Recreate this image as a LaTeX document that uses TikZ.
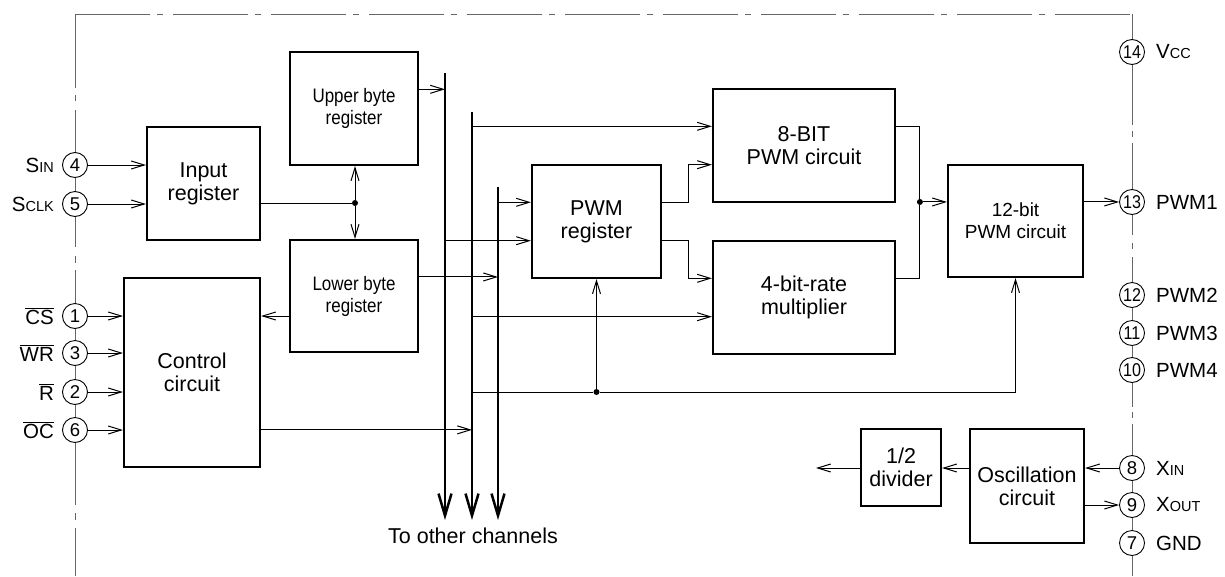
\documentclass[tikz,border=0pt]{standalone}
\usepackage{fontspec}
\usepackage{graphicx}
\setmainfont{Liberation Sans}
\usetikzlibrary{arrows.meta,calc,positioning}
\definecolor{framegray}{HTML}{666666}
\newcommand{\lowcap}[1]{{\fontsize{14.5}{14.5}\selectfont #1}}
\newcommand{\negsig}[1]{$\overline{\mbox{#1}}$}
\newcommand{\narrow}[1]{\scalebox{0.87}[1]{#1}}
\tikzset{
  blk/.style={draw,line width=2.2pt,align=center,inner sep=0pt,font=\fontsize{21.5}{23}\selectfont},
  pin/.style={circle,draw,fill=white,line width=0.9pt,minimum size=25pt,inner sep=0pt,font=\fontsize{18.5}{18.5}\selectfont},
  lbl/.style={inner sep=0pt,font=\fontsize{20.5}{20.5}\selectfont},
  sig/.style={line width=1pt,-{Straight Barb[length=13pt,width=8pt]}},
  wire/.style={line width=1pt},
  bus/.style={line width=2.5pt,-{Straight Barb[length=22pt,width=13pt]}},
  jdot/.style={circle,fill,inner sep=0pt,minimum size=6pt},
  frame/.style={framegray,line width=1pt},
}

\begin{document}
\begin{tikzpicture}[x=1pt,y=-1pt]
\useasboundingbox (0,0) rectangle (1225,576);

% chip outline
\draw[frame,dash pattern=on 75pt off 7pt on 6pt off 10pt] (75,14) -- (1132,14);
\foreach \a/\b in {14/88,95/101,110/247,256/263,270/505,513/520,528/576}
  \draw[frame] (75,\a) -- (75,\b);
\foreach \a/\b in {14/125,131/137,143/235,243/249,257/407,412/418,424/576}
  \draw[frame] (1132,\a) -- (1132,\b);

% blocks
\node[blk,minimum width=113pt,minimum height=113pt] (inreg) at (203.5,183.5) {Input\\register};
\node[blk,font=\fontsize{19.5}{22}\selectfont,minimum width=128pt,minimum height=113pt] (upreg) at (354,108.5) {\narrow{Upper byte}\\\narrow{register}};
\node[blk,font=\fontsize{19.5}{22}\selectfont,minimum width=128pt,minimum height=112pt] (loreg) at (354,296) {\narrow{Lower byte}\\\narrow{register}};
\node[blk,minimum width=136pt,minimum height=189pt] (ctrl) at (192,372.5) {Control\\circuit};
\node[blk,minimum width=129pt,minimum height=113pt] (pwmreg) at (596.5,221.5) {PWM\\register};
\node[blk,minimum width=182pt,minimum height=113pt] (pwm8) at (804,145.5) {8-BIT\\PWM circuit};
\node[blk,minimum width=182pt,minimum height=113pt] (rate4) at (804,297.5) {4-bit-rate\\multiplier};
\node[blk,font=\fontsize{19}{22}\selectfont,minimum width=135pt,minimum height=112pt] (pwm12) at (1015.5,221) {12-bit\\PWM circuit};
\node[blk,minimum width=114pt,minimum height=114pt] (osc) at (1027,486) {Oscillation\\circuit};
\node[blk,minimum width=80pt,minimum height=77pt] (div) at (901,467.5) {1/2\\divider};

% pins
\foreach \n/\y in {4/165,5/204,1/316,3/353,2/392,6/430}
  \node[pin] (p\n) at (75,\y) {\n};
\foreach \n/\y in {8/468,9/505,7/543}
  \node[pin] (p\n) at (1132,\y) {\n};
\foreach \n/\y in {14/52,13/202,12/295,11/333,10/370}
  \node[pin] (p\n) at (1132,\y) {\narrow{\n}};

\node[lbl,left=8pt of p4] (lsin) {S\lowcap{IN}};
\node[lbl,left=8pt of p5] (lsclk) {S\lowcap{CLK}};
\node[lbl,left=8pt of p1] (lcs) {\negsig{CS}};
\node[lbl,left=8pt of p3] (lwr) {\negsig{WR}};
\node[lbl,left=8pt of p2] (lr) {\negsig{R}};
\node[lbl,left=8pt of p6] (loc) {\negsig{OC}};
\node[lbl,right=11pt of p14] (lvcc) {V\lowcap{CC}};
\node[lbl,right=11pt of p13] (lpwm1) {PWM1};
\node[lbl,right=11pt of p12] (lpwm2) {PWM2};
\node[lbl,right=11pt of p11] (lpwm3) {PWM3};
\node[lbl,right=11pt of p10] (lpwm4) {PWM4};
\node[lbl,right=11pt of p8] (lxin) {X\lowcap{IN}};
\node[lbl,right=11pt of p9] (lxout) {X\lowcap{OUT}};
\node[lbl,right=11pt of p7] (lgnd) {GND};

% inputs
\foreach \n in {4,5}
  \draw[sig] (p\n) -- (p\n -| inreg.west);
\foreach \n in {1,3,2,6}
  \draw[sig] (p\n) -- (p\n -| ctrl.west);

\node[jdot] (jin) at (355,203) {};
\draw[wire] (jin -| inreg.east) -- (jin);
\draw[sig] (jin) -- (jin |- upreg.south);
\draw[sig] (jin) -- (jin |- loreg.north);
\draw[sig] (p1 -| loreg.west) -- (p1 -| ctrl.east);

% buses to other channels
\coordinate (top1) at (445,73);  \coordinate (bot1) at (445,520);
\coordinate (top2) at (472,112); \coordinate (bot2) at (472,520);
\coordinate (top3) at (498,187); \coordinate (bot3) at (498,520);
\foreach \b in {1,2,3}
  \draw[bus] (top\b) -- (bot\b);
\node[lbl,font=\fontsize{21.5}{21.5}\selectfont] (tochan) at (473,536) {To other channels};

% ports
\coordinate (up1) at ($(upreg.north east)!1/3!(upreg.south east)$);
\coordinate (lo1) at ($(loreg.north east)!1/3!(loreg.south east)$);
\coordinate (co4) at ($(ctrl.north east)!4/5!(ctrl.south east)$);
\coordinate (pr1) at ($(pwmreg.north west)!1/3!(pwmreg.south west)$);
\coordinate (pr2) at ($(pwmreg.north west)!2/3!(pwmreg.south west)$);
\coordinate (po1) at ($(pwmreg.north east)!1/3!(pwmreg.south east)$);
\coordinate (po2) at ($(pwmreg.north east)!2/3!(pwmreg.south east)$);
\coordinate (e1) at ($(pwm8.north west)!1/3!(pwm8.south west)$);
\coordinate (e2) at ($(pwm8.north west)!2/3!(pwm8.south west)$);
\coordinate (f1) at ($(rate4.north west)!1/3!(rate4.south west)$);
\coordinate (f2) at ($(rate4.north west)!2/3!(rate4.south west)$);
\coordinate (eo1) at ($(pwm8.north east)!1/3!(pwm8.south east)$);
\coordinate (fo1) at ($(rate4.north east)!1/3!(rate4.south east)$);
\coordinate (t1) at ($(pwm12.north west)!1/3!(pwm12.south west)$);
\coordinate (to1) at ($(pwm12.north east)!1/3!(pwm12.south east)$);

\draw[sig] (up1) -- (up1 -| top1);
\draw[sig] (lo1) -- (lo1 -| top3);
\draw[sig] (co4) -- (co4 -| top2);
\draw[sig] (pr1 -| top3) -- (pr1);
\draw[sig] (pr2 -| top1) -- (pr2);
\draw[sig] (e1 -| top2) -- (e1);
\draw[sig] (f2 -| top2) -- (f2);
\draw[sig] (po1) -- ++(26,0) |- (e2);
\draw[sig] (po2) -- ++(26,0) |- (f1);

\path (t1) ++(-27,0) node[jdot] (jout) {};
\draw[wire] (eo1) -| (jout) |- (fo1);
\draw[sig] (jout) -- (t1);
\draw[sig] (to1) -- (to1 -| p13.west);

\node[jdot] (jfb) at (pwmreg.south |- p2) {};
\draw[wire] (jfb -| top2) -- (jfb);
\draw[sig] (jfb) -- (pwmreg.south);
\draw[sig] (jfb) -| (pwm12.south);

% clock
\draw[sig] (p8) -- (p8 -| osc.east);
\draw[sig] (p9 -| osc.east) -- (p9);
\draw[sig] (p8 -| osc.west) -- (p8 -| div.east);
\coordinate (clkout) at (816,468);
\draw[sig] (div.west |- p8) -- (clkout);
\end{tikzpicture}
\end{document}
